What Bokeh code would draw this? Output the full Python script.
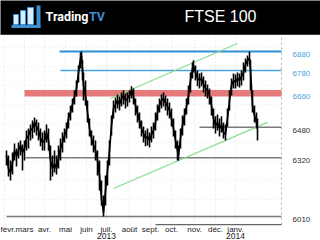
from bokeh.plotting import figure
from bokeh.layouts import column
from bokeh.models import Range1d
from bokeh.core.properties import value
from bokeh.embed import file_html
from bokeh.resources import INLINE

# ---- data (trading-day index, 0 = 1 Feb 2013) ----
day = [2, 4, 6, 8, 10, 12, 14, 16, 18, 20,
       22, 24, 26, 28, 30, 32, 34, 36, 38, 40, 42, 44,
       46, 48, 50, 52, 54, 56, 58,
       60, 62, 64, 66, 68, 70, 72, 74, 76, 77,
       78, 79, 81, 83, 85, 87, 89, 91, 93, 95, 97, 99, 101, 103, 105, 107, 109,
       111, 113, 115, 117, 119, 121, 123, 125, 127, 129,
       131, 133, 135, 137, 139, 141, 143, 145, 147, 149, 151, 153, 155,
       157, 159, 161, 163, 165, 167,
       169, 171, 173, 174,
       176, 178, 180, 182, 184, 186, 188, 189,
       191, 193, 195, 197, 199, 201, 203, 205, 207, 209, 211,
       213, 215, 217, 219, 221, 223,
       225, 227, 229, 231, 233, 235, 237, 239, 241, 243, 245,
       246, 248, 250, 252, 253]
close = [6332, 6263, 6242, 6295, 6358, 6327, 6358, 6385, 6348, 6369,
         6422, 6437, 6464, 6474, 6506, 6485, 6464, 6422, 6400, 6411,
         6453, 6411, 6306, 6263, 6290, 6263, 6316,
         6369, 6400, 6437, 6464, 6527, 6559, 6601, 6643, 6685, 6769, 6843, 6859,
         6780, 6701, 6648, 6559, 6474, 6422, 6385, 6358, 6306, 6227, 6105, 6031, 6147, 6253, 6358,
         6490, 6580, 6601, 6622, 6601, 6632, 6648, 6622, 6632, 6648,
         6675, 6643, 6595, 6553, 6516, 6474, 6448, 6422, 6432, 6411, 6443, 6464, 6506,
         6559, 6595, 6622, 6632, 6611, 6590,
         6569, 6527, 6474, 6411, 6358, 6332,
         6422, 6490, 6543, 6590, 6648, 6727, 6790, 6806,
         6769, 6738, 6727, 6738, 6706, 6685, 6675, 6648, 6595, 6527, 6490,
         6506, 6474, 6495, 6453, 6443, 6527,
         6622, 6701, 6727, 6717, 6738, 6727, 6748, 6769, 6812, 6833, 6843,
         6780, 6595, 6543, 6506, 6474]
high = [6358, 6332, 6306, 6348, 6395, 6369, 6400, 6411, 6390, 6411,
        6464, 6474, 6495, 6516, 6532, 6522, 6506, 6474, 6453, 6464,
        6495, 6474, 6385, 6332, 6358, 6332, 6385,
        6422, 6453, 6474, 6506, 6559, 6595, 6632, 6675, 6727, 6806, 6875, 6880,
        6833, 6769, 6727, 6622, 6527, 6464, 6437, 6411, 6358, 6306, 6200, 6121, 6227, 6306, 6411,
        6543, 6622, 6638, 6653, 6643, 6664, 6675, 6659, 6664, 6675,
        6696, 6685, 6632, 6595, 6559, 6516, 6485, 6464, 6474, 6453, 6485, 6506, 6559,
        6601, 6632, 6653, 6664, 6648, 6632,
        6611, 6580, 6527, 6464, 6411, 6385,
        6474, 6543, 6580, 6632, 6701, 6769, 6822, 6833,
        6806, 6780, 6764, 6769, 6748, 6727, 6706, 6685, 6643, 6580, 6538,
        6548, 6527, 6538, 6506, 6495, 6580,
        6675, 6738, 6764, 6759, 6769, 6764, 6780, 6822, 6843, 6859, 6880,
        6833, 6675, 6595, 6559, 6527]
low = [6279, 6221, 6200, 6232, 6306, 6274, 6316, 6332, 6253, 6306,
       6358, 6369, 6411, 6422, 6453, 6437, 6411, 6380, 6358, 6358,
       6400, 6358, 6200, 6221, 6242, 6232, 6263,
       6306, 6348, 6400, 6422, 6474, 6516, 6559, 6601, 6643, 6717, 6790, 6822,
       6727, 6622, 6595, 6506, 6432, 6385, 6348, 6306, 6227, 6147, 6068, 6010, 6068, 6174, 6279,
       6437, 6527, 6559, 6580, 6569, 6590, 6601, 6580, 6590, 6611,
       6632, 6601, 6543, 6506, 6474, 6432, 6400, 6380, 6385, 6374, 6400, 6422, 6464,
       6516, 6559, 6580, 6590, 6569, 6543,
       6527, 6485, 6432, 6369, 6306, 6306,
       6369, 6437, 6490, 6548, 6601, 6664, 6738, 6769,
       6727, 6696, 6685, 6696, 6664, 6643, 6632, 6601, 6543, 6474, 6448,
       6464, 6432, 6453, 6422, 6411, 6485,
       6569, 6648, 6685, 6685, 6696, 6690, 6701, 6727, 6769, 6801, 6812,
       6675, 6559, 6506, 6474, 6411]

month_day = [0, 20, 40, 61, 82, 102, 125, 146, 167, 190, 211, 231]
month_name = ["févr.", "mars", "avr.", "mai", "juin", "juil.", "août", "sept.", "oct.", "nov.", "déc.", "janv."]
year_day = [102, 231]
year_name = ["2013", "2014"]

level_value = [6880, 6780, 6660, 6480, 6320, 6010]
level_label = ["6880", "6780", "6660", "6480", "6320", "6010"]
level_start = [55, 56, 20, 195, 21, 2]
level_kind = ["blue", "blue2", "red", "gray", "gray", "gray"]

trend_x0 = [106, 109]
trend_y0 = [6632, 6158]
trend_x1 = [233, 263]
trend_y1 = [6922, 6506]

grid_value = [6000, 6100, 6200, 6300, 6400, 6500, 6600, 6700, 6800, 6900]

# ---- scales (frame covers the whole area below the header) ----
XL, XR = -4, 316          # full width
X_END = 277               # right edge of the price area
YB, YT = 5884, 6964       # full height
Y_AXIS = 5968             # baseline of the price area

# ---- header ----
hdr = figure(width=320, height=35, x_range=Range1d(0, 320), y_range=Range1d(35, 0),
             toolbar_location=None, output_backend="svg", min_border=0,
             x_axis_location=None, y_axis_location=None)
hdr.grid.visible = False
hdr.background_fill_color = "black"
hdr.border_fill_color = "black"
hdr.outline_line_color = None
hdr.quad(left=[13, 20, 27], right=[18, 25, 33], top=[14, 10, 7], bottom=[24, 24, 24],
         fill_color="#d8ecfa", line_color="#3d8fd6", line_width=1)
hdr.quad(left=[36], right=[40], top=[5], bottom=[26], fill_color="#3d8fd6", line_color=None)
hdr.quad(left=[11], right=[40], top=[24.5], bottom=[27.5], fill_color="#3d8fd6", line_color=None)
hdr.text(x=[88], y=[16], text=["Trading"], text_color="white", text_font=value("Roboto"),
         text_font_style="bold", text_font_size="12.5px", text_baseline="middle", text_align="right")
hdr.text(x=[88.5], y=[16], text=["TV"], text_color="#3d8fd6", text_font=value("Roboto"),
         text_font_style="bold", text_font_size="12.5px", text_baseline="middle")
hdr.text(x=[220], y=[16], text=["FTSE 100"], text_color="white", text_font=value("Liberation Sans"),
         text_font_size="16px", text_baseline="middle", text_align="center")
hdr.segment(x0=[0], y0=[34.5], x1=[320], y1=[34.5], line_color="#777777", line_width=1)

# ---- chart ----
p = figure(width=320, height=205, x_range=Range1d(XL, XR), y_range=Range1d(YB, YT),
           toolbar_location=None, output_backend="svg", min_border=0,
           x_axis_location=None, y_axis_location=None)
p.grid.visible = False
p.outline_line_color = None
p.background_fill_color = "white"
p.border_fill_color = "white"

# grid
n_m = len(month_day)
p.segment(x0=month_day, y0=[Y_AXIS] * n_m, x1=month_day, y1=[YT] * n_m,
          line_color="#e0e0e0", line_width=1, line_dash="1 2")
n_g = len(grid_value)
p.segment(x0=[XL] * n_g, y0=grid_value, x1=[X_END] * n_g, y1=grid_value,
          line_color="#ececec", line_width=1, line_dash="1 2")
p.segment(x0=[X_END], y0=[Y_AXIS], x1=[X_END], y1=[YT], line_color="#b0b0b0", line_width=1,
          line_dash="2 3")
p.segment(x0=[151], y0=[Y_AXIS], x1=[X_END], y1=[Y_AXIS], line_color="#666666", line_width=1.2)

style = {"blue": ("#2f8fd8", 2, 1), "blue2": ("#4aa3e0", 1.5, 1),
         "red": ("#e05858", 6.5, 0.8), "gray": ("#7a7a7a", 1.5, 1)}
for v, s, k in zip(level_value, level_start, level_kind):
    c, w, a = style[k]
    p.segment(x0=[s], y0=[v], x1=[X_END], y1=[v], line_color=c, line_width=w, line_alpha=a)

p.segment(x0=trend_x0, y0=trend_y0, x1=trend_x1, y1=trend_y1, line_color="#86de93", line_width=1.3)

# price: daily range bars plus closing line
p.segment(x0=day, y0=low, x1=day, y1=high, line_color="black", line_width=1.6)
p.line(day, close, line_color="black", line_width=1.7)

# right-hand price labels
lab_color = ["#4aa3dc" if k in ("blue", "blue2", "red") else "#333333" for k in level_kind]
p.text(x=[X_END] * len(level_value), y=level_value, text=level_label, text_color=lab_color,
       x_offset=11, y_offset=3, text_font=value("Liberation Sans"), text_font_size="8px",
       text_baseline="middle")

# month and year labels (the first one is kept inside the left edge)
p.text(x=month_day[:1], y=[Y_AXIS], text=month_name[:1], text_color="#222222",
       x_offset=XL - month_day[0], y_offset=4.5, text_align="left", text_baseline="middle",
       text_font=value("Liberation Sans"), text_font_size="8px")
p.text(x=month_day[1:], y=[Y_AXIS] * (n_m - 1), text=month_name[1:], text_color="#222222",
       y_offset=4.5, text_align="center", text_baseline="middle",
       text_font=value("Liberation Sans"), text_font_size="8px")
p.text(x=year_day, y=[Y_AXIS] * len(year_day), text=year_name, text_color="#222222",
       y_offset=11.5, text_align="center", text_baseline="middle",
       text_font=value("Liberation Sans"), text_font_size="8.5px")

layout = column(hdr, p, spacing=0)
open("out.html", "w").write(file_html(layout, INLINE))
